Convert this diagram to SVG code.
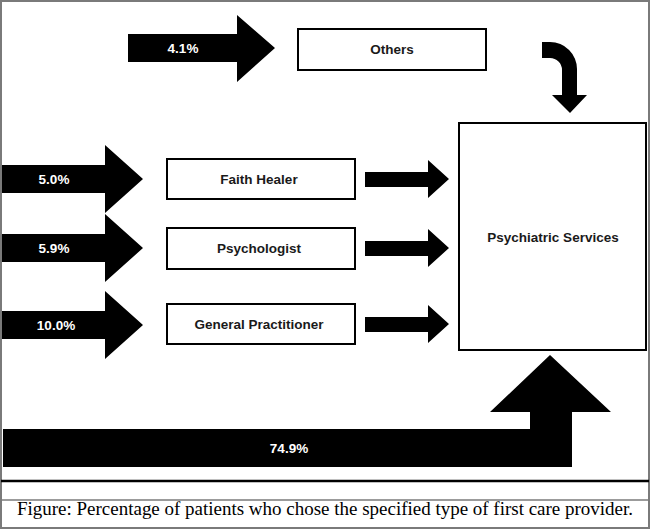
<svg xmlns="http://www.w3.org/2000/svg" width="650" height="529" viewBox="0 0 650 529">
<style>
.box{fill:#fff;stroke:#000;stroke-width:2}
.lbl{font-family:"Liberation Sans",Arial,sans-serif;font-size:13.5px;font-weight:bold;fill:#1a1a1a;text-anchor:middle;dominant-baseline:central}
.pct{font-family:"Liberation Sans",Arial,sans-serif;font-size:13.5px;font-weight:bold;fill:#fff;text-anchor:middle;dominant-baseline:central}
.arr{fill:#000}
</style>
<rect x="0" y="0" width="650" height="529" fill="#fff"/>
<g id="frame">
<rect x="1" y="1" width="648" height="527" fill="none" stroke="#7a7a7a" stroke-width="2"/>
<line x1="1" y1="481" x2="649" y2="481" stroke="#000" stroke-width="2.5"/>
<line x1="1" y1="500" x2="649" y2="500" stroke="#7a7a7a" stroke-width="1.5"/>
</g>
<g id="connectors">
<g id="arrow-others-in"><path class="arr" d="M128,34 L237,34 L237,15 L275,48 L237,82 L237,62 L128,62 Z"/><text class="pct" x="183" y="48">4.1%</text></g>
<g id="arrow-faith-in"><path class="arr" d="M2,165 L105,165 L105,145 L143,179 L105,213 L105,193 L2,193 Z"/><text class="pct" x="54" y="179">5.0%</text></g>
<g id="arrow-psych-in"><path class="arr" d="M2,234 L105,234 L105,214 L143,248 L105,282 L105,262 L2,262 Z"/><text class="pct" x="54" y="248">5.9%</text></g>
<g id="arrow-gp-in"><path class="arr" d="M2,311 L105,311 L105,291 L143,325 L105,359 L105,339 L2,339 Z"/><text class="pct" x="56" y="325">10.0%</text></g>
<path class="arr" d="M365,172 L428,172 L428,160 L449,179 L428,198 L428,187 L365,187 Z"/>
<path class="arr" d="M365,241 L428,241 L428,229 L449,248 L428,267 L428,256 L365,256 Z"/>
<path class="arr" d="M365,317 L428,317 L428,305 L449,324 L428,343 L428,332 L365,332 Z"/>
<path class="arr" d="M542,42 L550,42 A27,27 0 0 1 577,69 L577,95 L587,95 L570,113 L552,95 L562,95 L562,70 A12,12 0 0 0 550,58 L542,58 Z"/>
<g id="arrow-direct"><path class="arr" d="M3,429 L530,429 L530,412 L490,412 L550,355 L611,412 L572,412 L572,467 L3,467 Z"/><text class="pct" x="289" y="448">74.9%</text></g>
</g>
<g id="node-others"><rect class="box" x="298" y="29" width="188" height="41"/><text class="lbl" x="392" y="49">Others</text></g>
<g id="node-faith"><rect class="box" x="167" y="159" width="188" height="40"/><text class="lbl" x="259" y="179">Faith Healer</text></g>
<g id="node-psychologist"><rect class="box" x="167" y="228" width="188" height="41"/><text class="lbl" x="259" y="248">Psychologist</text></g>
<g id="node-gp"><rect class="box" x="167" y="304" width="188" height="40"/><text class="lbl" x="259" y="324">General Practitioner</text></g>
<g id="node-psychiatric"><rect class="box" x="459" y="123" width="187" height="227"/><text class="lbl" x="553" y="237">Psychiatric Services</text></g>
<text x="325" y="515" font-family="'Liberation Serif','Times New Roman',serif" font-size="18" text-anchor="middle" textLength="616" lengthAdjust="spacingAndGlyphs" fill="#000">Figure: Percentage of patients who chose the specified type of first care provider.</text>
</svg>
